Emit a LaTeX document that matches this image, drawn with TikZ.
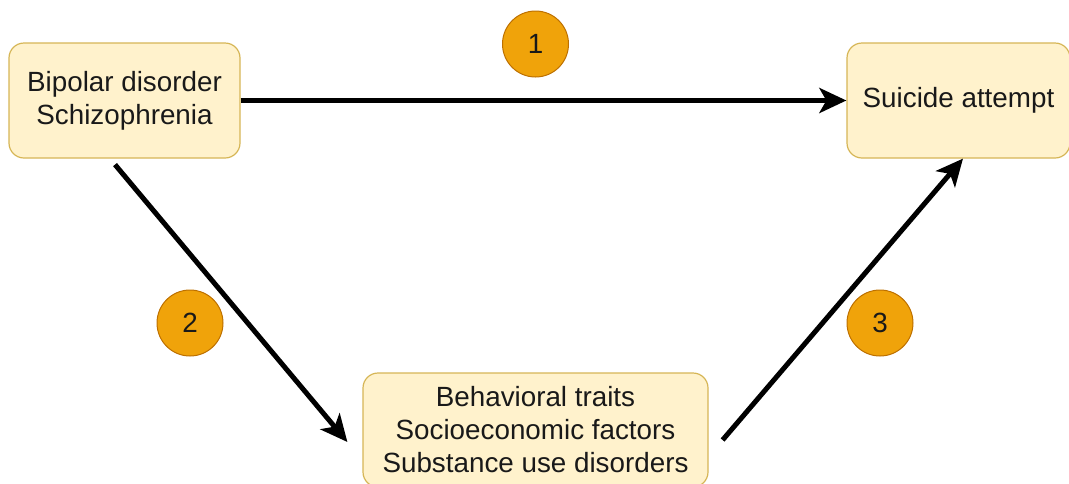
\documentclass[tikz,border=0pt]{standalone}
\usepackage{fontspec}
\setmainfont{Liberation Sans}
\usetikzlibrary{arrows.meta,calc}
\definecolor{boxfill}{HTML}{FFF2CC}
\definecolor{boxline}{HTML}{D6B656}
\definecolor{circfill}{HTML}{F0A30A}
\definecolor{circline}{HTML}{BD7000}
\tikzset{
  box/.style={draw=boxline, fill=boxfill, line width=1.2pt, rounded corners=15pt,
    align=center, inner sep=0pt, font=\fontsize{27.8}{33}\selectfont, text=black!90},
  badge/.style={circle, draw=circline, fill=circfill, line width=1pt, minimum size=66pt,
    inner sep=0pt, font=\fontsize{27.8}{33}\selectfont, text=black!90},
  conn/.style={line width=5pt, -{Stealth[length=27pt, width=25pt, inset=7pt]}},
}
\begin{document}
\begin{tikzpicture}[x=1pt,y=-1pt]
\useasboundingbox (0,0) rectangle (1069,483);
\begin{scope}
\clip (0,0) rectangle (1069,483);
\node[box, minimum width=231pt, minimum height=115pt] (A) at (124.5,100.5) {Bipolar disorder\\Schizophrenia};
\node[box, minimum width=223pt, minimum height=115pt] (B) at (958.5,100.5) {Suicide attempt};
\node[box, minimum width=345pt, minimum height=114pt] (C) at (535.5,430) {Behavioral traits\\Socioeconomic factors\\Substance use disorders};
\end{scope}
\node[badge] (n1) at (535.5,44) {1};
\node[badge] (n2) at (190,323) {2};
\node[badge] (n3) at (880,323) {3};
\draw[conn] (A.east) -- (B.west);
\draw[conn] ($(A.south)+(-9.5,6)$) -- ($(C.west)+(-15,12)$);
\draw[conn] ($(C.east)+(14,10)$) -- ($(B.south)+(4.5,0)$);
\end{tikzpicture}
\end{document}
